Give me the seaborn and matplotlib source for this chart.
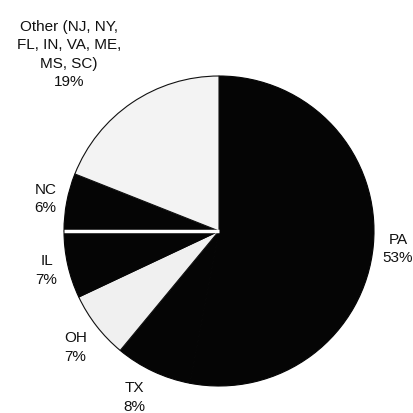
import matplotlib
matplotlib.use("Agg")
import matplotlib.pyplot as plt
import seaborn as sns
import numpy as np

states = ["PA", "TX", "OH", "IL", "NC", "Other (NJ, NY,\nFL, IN, VA, ME,\nMS, SC)"]
shares = [53, 8, 7, 7, 6, 19]
pct_labels = ["53%", "8%", "7%", "7%", "6%", "19%"]

sns.set_theme(style="white")
plt.rcParams["font.family"] = ["Liberation Sans", "DejaVu Sans"]

colors = ["#050505", "#050505", "#f0f0f0", "#050505", "#050505", "#f3f3f3"]
label_dist = [1.16, 1.20, 1.19, 1.14, 1.14, 1.50]
label_shift = [0, -2, 1, 0, 0, 6]

fig = plt.figure(figsize=(4.14, 4.14), dpi=100)
ax = fig.add_axes([0, 0, 1, 1])
wedges, _ = ax.pie(shares, colors=colors, startangle=90, counterclock=False,
                   wedgeprops=dict(edgecolor="#1a1a1a", linewidth=0.8))
for w, c in zip(wedges, colors):
    w.set_edgecolor("#111111" if c != "#050505" else "#050505")

# white separator between IL and NC
a = np.deg2rad(wedges[3].theta1 if abs(wedges[3].theta1 - wedges[4].theta2) < 1e-6 else wedges[3].theta2)
ax.plot([0, np.cos(a)], [0, np.sin(a)], color="white", lw=2.5, solid_capstyle="butt")

for w, s, p, d, sh in zip(wedges, states, pct_labels, label_dist, label_shift):
    mid = np.deg2rad((w.theta1 + w.theta2) / 2 + sh)
    ax.text(d * np.cos(mid), d * np.sin(mid), f"{s}\n{p}", ha="center", va="center",
            fontsize=11, linespacing=1.4, color="#111111")

R = 155.0
ax.set_xlim(-219 / R, (414 - 219) / R)
ax.set_ylim(-(414 - 232) / R, 232 / R)
ax.set_aspect("equal")
ax.axis("off")
fig.savefig("out.png", dpi=100, facecolor="white")
